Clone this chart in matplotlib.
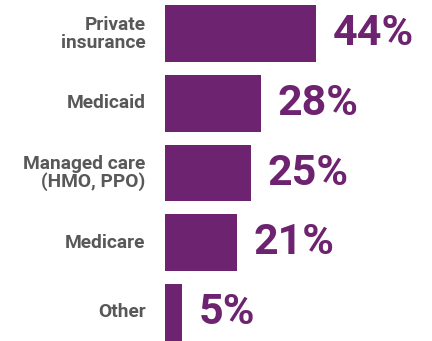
import matplotlib.pyplot as plt

categories = ['Private\ninsurance', 'Medicaid', 'Managed care\n(HMO, PPO)', 'Medicare', 'Other']
values = [44, 28, 25, 21, 5]

purple = '#6E2370'
gray = '#585858'

fig = plt.figure(figsize=(4.32, 3.41), dpi=100)
ax = fig.add_axes([165/432, 0, 267/432, 1])

pos = list(range(len(values)))
ax.barh(pos, values, height=0.82, color=purple)
ax.set_xlim(0, 77.8)
ax.set_ylim(4.417, -0.489)

for p, v, c in zip(pos, values, categories):
    ax.annotate(f'{v}%', (v, p), xytext=(12, 0), textcoords='offset points',
                va='center', ha='left', fontsize=31, fontweight='bold',
                family='Roboto', color=purple)
    ax.annotate(c, (0, p), xytext=(-14, 0), textcoords='offset points',
                va='center', ha='right', fontsize=13.8, fontweight='bold',
                family='Roboto', color=gray, linespacing=1.0)

ax.axis('off')
fig.savefig('out.png', dpi=100)
